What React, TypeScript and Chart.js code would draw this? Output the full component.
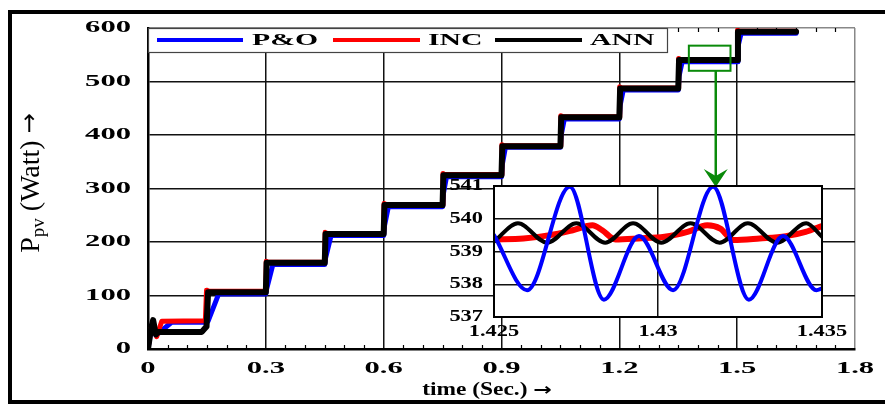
import React, { useEffect, useRef } from "react";
import { Chart, registerables } from "chart.js";

Chart.register(...registerables);

const FONT = "'Liberation Serif', 'Times New Roman', serif";
const ARROW_FONT = "'DejaVu Sans', sans-serif";

// ---------- main chart data ----------
const poTime = [0, 0.006, 0.012, 0.02, 0.028, 0.06, 0.15, 0.153, 0.18, 0.3, 0.302, 0.318, 0.45, 0.452, 0.466, 0.6, 0.602, 0.612, 0.75, 0.752, 0.76, 0.9, 0.902, 0.91, 1.05, 1.052, 1.06, 1.2, 1.202, 1.21, 1.35, 1.352, 1.36, 1.5, 1.502, 1.51, 1.65];
const poPower = [0, 28, 50, 26, 30, 50, 50, 52, 103, 103, 112, 158, 158, 170, 212, 212, 230, 266, 266, 290, 322, 322, 345, 377, 377, 400, 430, 430, 455, 484, 484, 510, 537, 537, 565, 590, 590];

const incTime = [0, 0.005, 0.012, 0.022, 0.035, 0.146, 0.149, 0.156, 0.3, 0.301, 0.306, 0.45, 0.451, 0.456, 0.6, 0.601, 0.606, 0.75, 0.751, 0.756, 0.9, 0.901, 0.906, 1.05, 1.051, 1.056, 1.2, 1.201, 1.206, 1.35, 1.351, 1.356, 1.5, 1.501, 1.506, 1.65];
const incPower = [0, 30, 50, 23, 52, 53, 110, 108, 108, 164, 162, 162, 218, 216, 216, 272, 270, 270, 328, 326, 326, 382, 380, 380, 436, 434, 434, 490, 488, 488, 543, 541, 541, 596, 594, 594];

const annTime = [0, 0.007, 0.013, 0.02, 0.026, 0.137, 0.149, 0.153, 0.3, 0.302, 0.45, 0.452, 0.6, 0.602, 0.75, 0.752, 0.9, 0.902, 1.05, 1.052, 1.2, 1.202, 1.35, 1.352, 1.5, 1.502, 1.65];
const annPower = [0, 35, 54, 27, 32, 32, 42, 106, 106, 161, 161, 215, 215, 269, 269, 325, 325, 379, 379, 433, 433, 487, 487, 540, 540, 593, 593];

// ---------- inset (zoom) data ----------
const poZoomTime = [1.425, 1.42601, 1.42731, 1.42835, 1.42942, 1.43046, 1.43168, 1.43277, 1.43381, 1.43483, 1.435];
const poZoomPower = [539.5, 537.82, 540.98, 537.53, 539.47, 537.82, 540.98, 537.53, 539.47, 537.82, 537.87];

const incZoomTime = [1.425, 1.4259, 1.4267, 1.4274, 1.428, 1.4283, 1.4287, 1.4294, 1.4302, 1.4309, 1.4315, 1.4319, 1.4323, 1.4331, 1.4339, 1.4345, 1.435];
const incZoomPower = [539.37, 539.4, 539.5, 539.65, 539.8, 539.65, 539.37, 539.4, 539.45, 539.6, 539.8, 539.7, 539.35, 539.4, 539.47, 539.6, 539.78];

const annZoomTime = [1.425, 1.42573, 1.42662, 1.42751, 1.42839, 1.42924, 1.4301, 1.43099, 1.43188, 1.43274, 1.43363, 1.43452, 1.435];
const annZoomPower = [539.3, 539.86, 539.27, 539.86, 539.27, 539.86, 539.27, 539.86, 539.27, 539.86, 539.27, 539.86, 539.45];

// ---------- labels / ticks ----------
const seriesLabels = ["P&O", "INC", "ANN"];
const seriesColors = ["#0000ff", "#ff0000", "#000000"];
const mainXTicks = [0, 0.3, 0.6, 0.9, 1.2, 1.5, 1.8];
const mainYTicks = [0, 100, 200, 300, 400, 500, 600];
const insetXTicks = [1.425, 1.43, 1.435];
const insetYTicks = [537, 538, 539, 540, 541];
const xTitle = "time (Sec.)";
const yTitleMain = "P";
const yTitleSub = "pv";
const yTitleUnit = " (Watt)";
const ARROW = "\u2192";
const zoomWindow = { t0: 1.377, t1: 1.483, p0: 520, p1: 567 };
const arrowTime = 1.4455;

const toPoints = (xs: number[], ys: number[]) => xs.map((x, i) => ({ x, y: ys[i] }));

function drawStretched(ctx: CanvasRenderingContext2D, text: string, x: number, y: number, sx: number, align: string) {
  const w = ctx.measureText(text).width * sx;
  let left = x;
  if (align === "center") left = x - w / 2;
  else if (align === "right") left = x - w;
  ctx.save();
  ctx.translate(left, y);
  ctx.scale(sx, 1);
  ctx.textAlign = "left";
  ctx.fillText(text, 0, 0);
  ctx.restore();
}

const mainDecor = {
  id: "mainDecor",
  beforeDraw(chart: any) {
    const { ctx, width, height } = chart;
    ctx.save();
    ctx.fillStyle = "#fff";
    ctx.fillRect(0, 0, width, height);
    ctx.restore();
  },
  afterDraw(chart: any) {
    const ctx: CanvasRenderingContext2D = chart.ctx;
    const xs = chart.scales.x;
    const ys = chart.scales.y;
    const { left, top, bottom } = chart.chartArea;
    ctx.save();

    // minor ticks (every 0.05 s)
    ctx.strokeStyle = "#000";
    ctx.lineWidth = 1.2;
    for (let i = 1; i < 36; i++) {
      if (i % 6 === 0) continue;
      const px = Math.round(xs.getPixelForValue(i * 0.05)) + 0.5;
      ctx.beginPath();
      ctx.moveTo(px, bottom);
      ctx.lineTo(px, bottom - 4);
      ctx.moveTo(px, top);
      ctx.lineTo(px, top + 4);
      ctx.stroke();
    }

    // tick labels
    ctx.fillStyle = "#000";
    ctx.font = `bold 17px ${FONT}`;
    ctx.textBaseline = "middle";
    ys.ticks.forEach((t: any) => drawStretched(ctx, String(t.value), left - 17, ys.getPixelForValue(t.value), 1.8, "right"));
    xs.ticks.forEach((t: any) => drawStretched(ctx, String(t.value), xs.getPixelForValue(t.value), bottom + 20, 1.8, "center"));

    // x title (text + arrow)
    {
      const sx = 1.3;
      ctx.font = `bold 18px ${FONT}`;
      const wT = ctx.measureText(xTitle + " ").width * sx;
      ctx.font = `bold 17px ${ARROW_FONT}`;
      const wA = ctx.measureText(ARROW).width * sx;
      const start = 487 - (wT + wA) / 2;
      ctx.font = `bold 18px ${FONT}`;
      drawStretched(ctx, xTitle, start, 390, sx, "left");
      ctx.font = `bold 17px ${ARROW_FONT}`;
      drawStretched(ctx, ARROW, start + wT, 391, sx, "left");
    }

    // y title with subscript
    ctx.save();
    ctx.translate(39, 183);
    ctx.rotate(-Math.PI / 2);
    ctx.textBaseline = "alphabetic";
    ctx.textAlign = "left";
    const bigFont = `28px ${FONT}`;
    const subFont = `19px ${FONT}`;
    const arrFont = `24px ${ARROW_FONT}`;
    ctx.font = bigFont;
    const wP = ctx.measureText(yTitleMain).width;
    const wRest = ctx.measureText(yTitleUnit + " ").width;
    ctx.font = subFont;
    const wSub = ctx.measureText(yTitleSub).width;
    ctx.font = arrFont;
    const wArr = ctx.measureText(ARROW).width;
    const total = wP + wSub + wRest + wArr;
    let cx = -total / 2;
    ctx.font = bigFont;
    ctx.fillText(yTitleMain, cx, 0);
    cx += wP;
    ctx.font = subFont;
    ctx.fillText(yTitleSub, cx, 5);
    cx += wSub;
    ctx.font = bigFont;
    ctx.fillText(yTitleUnit + " ", cx, 0);
    cx += wRest;
    ctx.font = arrFont;
    ctx.fillText(ARROW, cx, -2);
    ctx.restore();

    // legend
    const lx0 = left, ly0 = top, lx1 = 667, ly1 = 52;
    ctx.fillStyle = "#fff";
    ctx.fillRect(lx0, ly0, lx1 - lx0, ly1 - ly0);
    ctx.strokeStyle = "#444";
    ctx.lineWidth = 1.2;
    ctx.strokeRect(lx0 + 0.5, ly0 + 0.5, lx1 - lx0, ly1 - ly0);
    const legendItems = [
      { line: [157, 243], text: 252 },
      { line: [333, 420], text: 428 },
      { line: [495, 582], text: 590 },
    ];
    ctx.font = `bold 17px ${FONT}`;
    ctx.textBaseline = "middle";
    seriesLabels.forEach((lab, i) => {
      const ds = chart.data.datasets.find((d: any) => d.label === lab);
      const it = legendItems[i];
      ctx.strokeStyle = ds ? ds.borderColor : seriesColors[i];
      ctx.lineWidth = 4;
      ctx.beginPath();
      ctx.moveTo(it.line[0], 40);
      ctx.lineTo(it.line[1], 40);
      ctx.stroke();
      ctx.fillStyle = "#000";
      drawStretched(ctx, lab, it.text, 41, 1.75, "left");
    });

    // zoom window + arrow
    const gx0 = xs.getPixelForValue(zoomWindow.t0);
    const gx1 = xs.getPixelForValue(zoomWindow.t1);
    const gy0 = ys.getPixelForValue(zoomWindow.p1);
    const gy1 = ys.getPixelForValue(zoomWindow.p0);
    ctx.strokeStyle = "#0a8a0a";
    ctx.fillStyle = "#0a8a0a";
    ctx.lineWidth = 2;
    ctx.strokeRect(gx0, gy0, gx1 - gx0, gy1 - gy0);
    const ax = xs.getPixelForValue(arrowTime);
    ctx.lineWidth = 2.5;
    ctx.beginPath();
    ctx.moveTo(ax, gy1);
    ctx.lineTo(ax, 178);
    ctx.stroke();
    ctx.beginPath();
    ctx.moveTo(ax, 187);
    ctx.lineTo(ax - 12, 169);
    ctx.lineTo(ax, 176);
    ctx.lineTo(ax + 12, 169);
    ctx.closePath();
    ctx.fill();

    // outer frame
    ctx.strokeStyle = "#000";
    ctx.lineWidth = 4;
    ctx.strokeRect(10, 12, 900, 390);
    ctx.restore();
  },
};

const insetDecor = {
  id: "insetDecor",
  beforeDraw(chart: any) {
    const { ctx } = chart;
    const { left, top, right, bottom } = chart.chartArea;
    ctx.save();
    ctx.fillStyle = "#fff";
    ctx.fillRect(left, top, right - left, bottom - top);
    ctx.restore();
  },
  afterDraw(chart: any) {
    const ctx: CanvasRenderingContext2D = chart.ctx;
    const xs = chart.scales.x;
    const ys = chart.scales.y;
    const { left, top, right, bottom } = chart.chartArea;
    ctx.save();
    ctx.fillStyle = "#000";
    ctx.font = `bold 16px ${FONT}`;
    ctx.textBaseline = "middle";
    ys.ticks.forEach((t: any) => drawStretched(ctx, String(t.value), left - 11, ys.getPixelForValue(t.value), 1.4, "right"));
    xs.ticks.forEach((t: any) => drawStretched(ctx, String(t.value), xs.getPixelForValue(t.value), bottom + 15, 1.4, "center"));
    ctx.strokeStyle = "#000";
    ctx.lineWidth = 2;
    ctx.strokeRect(left, top, right - left, bottom - top);
    ctx.restore();
  },
};

export default function App() {
  const mainRef = useRef<HTMLCanvasElement>(null);
  const insetRef = useRef<HTMLCanvasElement>(null);

  useEffect(() => {
    const gridColorX = (c: any) => (c.tick && c.tick.value === 1.8 ? "#888" : "#111");
    const gridColorY = (c: any) => (c.tick && c.tick.value === 600 ? "#888" : "#111");
    const main = new Chart(mainRef.current as HTMLCanvasElement, {
      type: "line",
      data: {
        datasets: [
          { label: "ANN", data: toPoints(annTime, annPower), borderColor: seriesColors[2], borderWidth: 6, order: 0 },
          { label: "INC", data: toPoints(incTime, incPower), borderColor: seriesColors[1], borderWidth: 5, order: 1 },
          { label: "P&O", data: toPoints(poTime, poPower), borderColor: seriesColors[0], borderWidth: 5, order: 2 },
        ],
      },
      options: {
        responsive: false,
        animation: false,
        devicePixelRatio: 1,
        layout: { padding: { left: 0, right: 30, top: 28, bottom: 0 } },
        elements: { point: { radius: 0 }, line: { tension: 0, borderCapStyle: "round", borderJoinStyle: "round" } },
        plugins: { legend: { display: false }, tooltip: { enabled: false } },
        scales: {
          x: {
            type: "linear",
            min: 0,
            max: 1.8,
            afterBuildTicks: (s: any) => { s.ticks = mainXTicks.map((v) => ({ value: v })); },
            afterFit: (s: any) => { s.height = 57; },
            ticks: { display: false },
            grid: { color: gridColorX, lineWidth: 1.5, drawTicks: false },
            border: { color: "#000", width: 2.5 },
          },
          y: {
            type: "linear",
            min: 0,
            max: 600,
            afterBuildTicks: (s: any) => { s.ticks = mainYTicks.map((v) => ({ value: v })); },
            afterFit: (s: any) => { s.width = 148; },
            ticks: { display: false },
            grid: { color: gridColorY, lineWidth: 1.5, drawTicks: false },
            border: { color: "#000", width: 2.5 },
          },
        },
      } as any,
      plugins: [mainDecor],
    });

    const inset = new Chart(insetRef.current as HTMLCanvasElement, {
      type: "line",
      data: {
        datasets: [
          { label: "P&O", data: toPoints(poZoomTime, poZoomPower), borderColor: seriesColors[0], borderWidth: 4, order: 0 },
          { label: "ANN", data: toPoints(annZoomTime, annZoomPower), borderColor: seriesColors[2], borderWidth: 4, order: 1 },
          { label: "INC", data: toPoints(incZoomTime, incZoomPower), borderColor: seriesColors[1], borderWidth: 6, order: 2 },
        ],
      },
      options: {
        responsive: false,
        animation: false,
        devicePixelRatio: 1,
        layout: { padding: { left: 0, right: 38, top: 8, bottom: 0 } },
        elements: { point: { radius: 0 }, line: { cubicInterpolationMode: "monotone", borderCapStyle: "round" } },
        plugins: { legend: { display: false }, tooltip: { enabled: false } },
        scales: {
          x: {
            type: "linear",
            min: 1.425,
            max: 1.435,
            afterBuildTicks: (s: any) => { s.ticks = insetXTicks.map((v) => ({ value: v })); },
            afterFit: (s: any) => { s.height = 29; },
            ticks: { display: false },
            grid: { color: "#111", lineWidth: 1.5, drawTicks: false },
            border: { color: "#000", width: 2 },
          },
          y: {
            type: "linear",
            min: 537,
            max: 541,
            afterBuildTicks: (s: any) => { s.ticks = insetYTicks.map((v) => ({ value: v })); },
            afterFit: (s: any) => { s.width = 64; },
            ticks: { display: false },
            grid: { color: "#111", lineWidth: 1.5, drawTicks: false },
            border: { color: "#000", width: 2 },
          },
        },
      } as any,
      plugins: [insetDecor],
    });

    return () => {
      main.destroy();
      inset.destroy();
    };
  }, []);

  return (
    <div style={{ position: "absolute", left: 0, top: 0, width: 885, height: 406, background: "#fff", overflow: "hidden" }}>
      <canvas ref={mainRef} width={885} height={406} style={{ position: "absolute", left: 0, top: 0 }} />
      <canvas ref={insetRef} width={430} height={168} style={{ position: "absolute", left: 430, top: 178 }} />
    </div>
  );
}
